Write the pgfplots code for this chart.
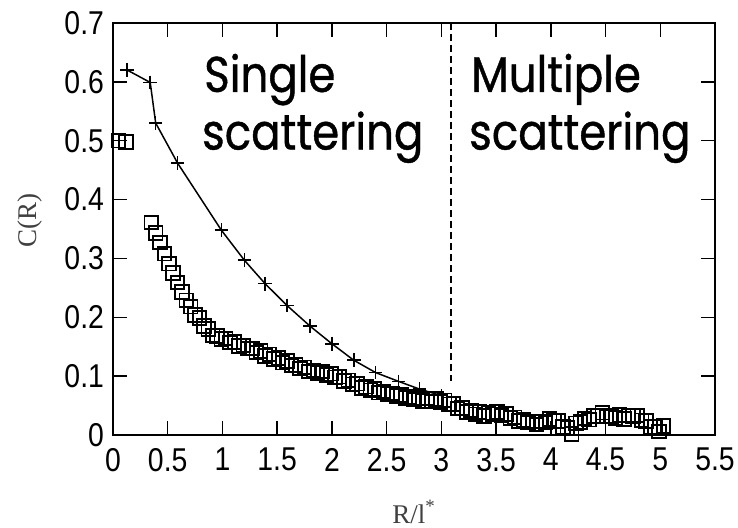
\documentclass[border=0pt]{standalone}
\usepackage{fontspec}
\setmainfont{Liberation Sans}[FakeStretch=0.86]
\newfontfamily\serifl{Liberation Serif}
\newfontfamily\comic{Poppins}[FakeStretch=0.87, FakeBold=0.8]
\usepackage{pgfplots}
\pgfplotsset{compat=1.18}

\pgfplotstableread{
x y
0.05 0.500
0.12 0.498
0.35 0.361
0.39 0.343
0.43 0.327
0.47 0.308
0.51 0.291
0.55 0.275
0.59 0.259
0.63 0.243
0.67 0.229
0.71 0.218
0.75 0.204
0.79 0.199
0.83 0.185
0.87 0.180
0.91 0.169
0.95 0.168
0.99 0.163
1.03 0.164
1.07 0.157
1.11 0.158
1.15 0.151
1.19 0.152
1.23 0.147
1.27 0.147
1.31 0.140
1.35 0.143
1.39 0.134
1.43 0.137
1.47 0.129
1.51 0.131
1.55 0.123
1.59 0.126
1.63 0.118
1.67 0.119
1.71 0.113
1.75 0.115
1.79 0.108
1.83 0.110
1.87 0.105
1.91 0.108
1.95 0.102
1.99 0.104
2.03 0.098
2.07 0.099
2.11 0.092
2.15 0.093
2.19 0.086
2.23 0.087
2.27 0.080
2.31 0.082
2.35 0.076
2.39 0.078
2.43 0.072
2.47 0.074
2.51 0.069
2.55 0.071
2.59 0.066
2.63 0.068
2.67 0.063
2.71 0.065
2.75 0.060
2.79 0.063
2.83 0.058
2.87 0.062
2.91 0.057
2.95 0.061
2.99 0.056
3.03 0.059
3.07 0.052
3.11 0.053
3.15 0.045
3.19 0.046
3.23 0.039
3.27 0.042
3.31 0.035
3.35 0.039
3.39 0.032
3.43 0.038
3.47 0.035
3.51 0.039
3.55 0.033
3.59 0.036
3.63 0.029
3.67 0.030
3.71 0.024
3.75 0.026
3.79 0.021
3.83 0.023
3.87 0.018
3.91 0.023
3.95 0.021
3.99 0.027
4.03 0.024
4.07 0.024
4.11 0.014
4.15 0.012
4.19 0.002
4.23 0.020
4.27 0.022
4.31 0.028
4.35 0.026
4.39 0.032
4.43 0.032
4.47 0.038
4.51 0.031
4.55 0.032
4.59 0.029
4.63 0.034
4.67 0.027
4.71 0.033
4.75 0.032
4.79 0.033
4.83 0.025
4.87 0.024
4.91 0.014
4.95 0.014
4.99 0.006
5.03 0.015
}\squares

\pgfplotstableread{
x y
0.13 0.620
0.34 0.599
0.39 0.530
0.59 0.462
0.99 0.348
1.20 0.297
1.39 0.257
1.59 0.220
1.80 0.185
2.00 0.155
2.20 0.127
2.40 0.106
2.61 0.091
2.80 0.078
3.00 0.067
}\plusdata

\begin{document}
\begin{tikzpicture}
\begin{axis}[
  scale only axis, width=301pt, height=206pt,
  xmin=0, xmax=5.5, ymin=0, ymax=0.7,
  xtick={0,0.5,1,1.5,2,2.5,3,3.5,4,4.5,5,5.5},
  ytick={0,0.1,0.2,0.3,0.4,0.5,0.6,0.7},
  tick align=inside, major tick length=7pt,
  axis line style={line width=0.7pt},
  every tick/.style={line width=0.7pt, black},
  tick label style={font=\fontsize{16.5}{16.5}\selectfont},
  /pgf/number format/assume math mode=true,
  /pgf/number format/fixed,
  xticklabel style={yshift=-3pt},
  yticklabel style={xshift=-1pt},
  xlabel={R/l\textsuperscript{*}},
  ylabel={C(R)},
  label style={font=\serifl\fontsize{13.5}{13.5}\selectfont, text=black!75},
  xlabel style={at={(axis description cs:0.5,-0.1869)}, anchor=center},
  ylabel style={at={(axis description cs:-0.1379,0.52)}, anchor=center},
  clip=false,
]
\addplot[only marks, mark=square, mark size=3.4pt, mark options={line width=0.9pt, black}] table[x=x,y=y] {\squares};
\addplot[black, line width=0.75pt, mark=+, mark size=3.4pt, mark options={line width=0.75pt}] table[x=x,y=y] {\plusdata};
\addplot[black, line width=0.75pt, dash pattern=on 3.5pt off 2pt] coordinates {(3.09,0.7) (3.09,0.092)};
\node[anchor=base west, inner sep=0pt, font=\comic\fontsize{25}{25}\selectfont] at (axis cs:0.83,0.583) {Single};
\node[anchor=base west, inner sep=0pt, font=\comic\fontsize{25}{25}\selectfont] at (axis cs:0.81,0.485) {scattering};
\node[anchor=base west, inner sep=0pt, font=\comic\fontsize{25}{25}\selectfont] at (axis cs:3.27,0.583) {Multiple};
\node[anchor=base west, inner sep=0pt, font=\comic\fontsize{25}{25}\selectfont] at (axis cs:3.25,0.485) {scattering};
\coordinate (sw) at (rel axis cs:0,0);
\coordinate (ne) at (rel axis cs:1,1);
\end{axis}
\pgfresetboundingbox
\path ([shift={(-56.5pt,-46.5pt)}]sw) rectangle ([shift={(11.5pt,11.5pt)}]ne);
\end{tikzpicture}
\end{document}
